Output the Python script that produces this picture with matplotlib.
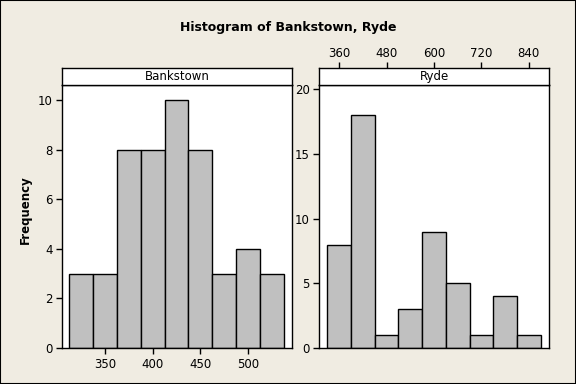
import matplotlib
matplotlib.use("Agg")
import matplotlib.pyplot as plt

# Bankstown: bin width 25, midpoints 325..525
bank_edges = [312.5, 337.5, 362.5, 387.5, 412.5, 437.5, 462.5, 487.5, 512.5, 537.5]
bank_counts = [3, 3, 8, 8, 10, 8, 3, 4, 3]
bank_xticks = [350, 400, 450, 500]
bank_yticks = [0, 2, 4, 6, 8, 10]

# Ryde: bin width 60, midpoints 360..840
ryde_edges = [330, 390, 450, 510, 570, 630, 690, 750, 810, 870]
ryde_counts = [8, 18, 1, 3, 9, 5, 1, 4, 1]
ryde_xticks = [360, 480, 600, 720, 840]
ryde_yticks = [0, 5, 10, 15, 20]

bg = "#F0ECE2"
bar_col = "#C0C0C0"
plt.rcParams['font.family'] = ['DejaVu Sans']

fig = plt.figure(figsize=(5.76, 3.84), dpi=100, facecolor=bg)
fig.patches.append(plt.Rectangle((0, 0), 1, 1, transform=fig.transFigure,
                                 fill=False, edgecolor='black', lw=1.5))

W, H = 576, 384

def box(x0, y0, x1, y1):
    # pixel coords (top-left origin) -> figure fractions
    return [x0 / W, 1 - y1 / H, (x1 - x0) / W, (y1 - y0) / H]

panels = [
    ("Bankstown", bank_edges, bank_counts, bank_xticks, bank_yticks, (305.2, 545.7), (0, 10.62), 62.3, 291.7, 'bottom'),
    ("Ryde", ryde_edges, ryde_counts, ryde_xticks, ryde_yticks, (309.3, 891.4), (0, 20.33), 319.3, 549.0, 'top'),
]

for name, edges, counts, xt, yt, xlim, ylim, x0, x1, xpos in panels:
    ax = fig.add_axes(box(x0, 85, x1, 348))
    ax.set_facecolor('white')
    ax.bar(edges[:-1], counts, width=[edges[i + 1] - edges[i] for i in range(len(counts))],
           align='edge', color=bar_col, edgecolor='black', linewidth=1.0)
    ax.set_xlim(*xlim)
    ax.set_ylim(*ylim)
    ax.set_yticks(yt)
    for s in ax.spines.values():
        s.set_linewidth(1.0)
    ax.tick_params(direction='out', length=4, width=1, labelsize=8.5, pad=3)

    strip = fig.add_axes(box(x0, 68.3, x1, 85), sharex=ax)
    strip.set_facecolor('white')
    strip.set_yticks([])
    strip.text(0.5, 0.5, name, transform=strip.transAxes, ha='center', va='center', fontsize=8.5)
    for s in strip.spines.values():
        s.set_linewidth(1.0)

    if xpos == 'bottom':
        ax.set_xticks(xt)
        strip.tick_params(axis='x', bottom=False, labelbottom=False)
    else:
        ax.tick_params(axis='x', bottom=False, labelbottom=False)
        strip.tick_params(axis='x', bottom=False, labelbottom=False, top=True, labeltop=True,
                          direction='out', length=4, width=1, labelsize=8.5, pad=2)
        strip.set_xticks(xt)

fig.text(0.5, 1 - 27 / H, "Histogram of Bankstown, Ryde", ha='center', va='center',
         fontsize=9, fontweight='bold')
fig.text(25 / W, 1 - 210 / H, "Frequency", ha='center', va='center', rotation=90,
         fontsize=8.5, fontweight='bold')

fig.savefig("out.png", dpi=100, facecolor=bg)
